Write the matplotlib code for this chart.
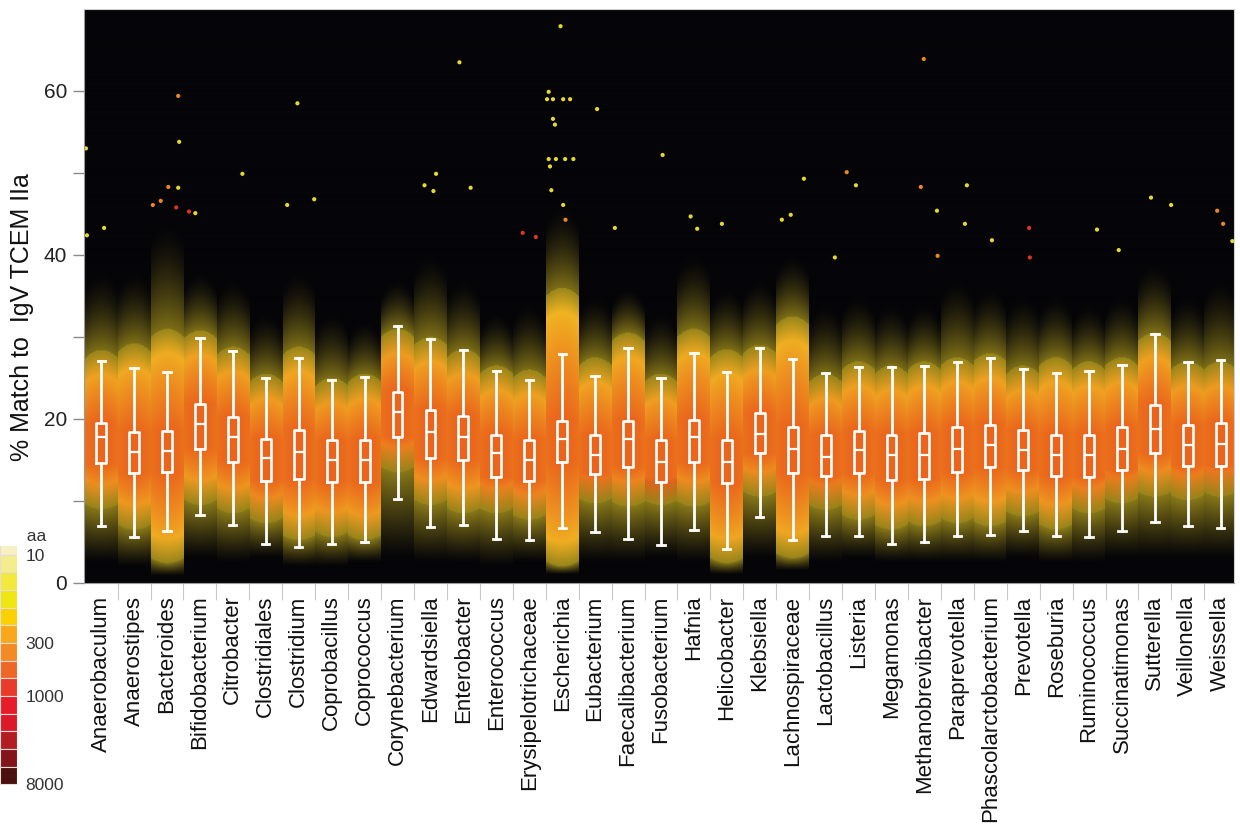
import numpy as np
import matplotlib
matplotlib.use('Agg')
import matplotlib.pyplot as plt

plt.rcParams['font.family'] = ['Liberation Sans', 'DejaVu Sans']

genera = ['Anaerobaculum', 'Anaerostipes', 'Bacteroides', 'Bifidobacterium', 'Citrobacter',
          'Clostridiales', 'Clostridium', 'Coprobacillus', 'Coprococcus', 'Corynebacterium',
          'Edwardsiella', 'Enterobacter', 'Enterococcus', 'Erysipelotrichaceae', 'Escherichia',
          'Eubacterium', 'Faecalibacterium', 'Fusobacterium', 'Hafnia', 'Helicobacter',
          'Klebsiella', 'Lachnospiraceae', 'Lactobacillus', 'Listeria', 'Megamonas',
          'Methanobrevibacter', 'Paraprevotella', 'Phascolarctobacterium', 'Prevotella', 'Roseburia',
          'Ruminococcus', 'Succinatimonas', 'Sutterella', 'Veillonella', 'Weissella']

# box plot statistics (% match)
whis_lo = [6.9, 5.6, 6.4, 8.3, 7.1, 4.8, 4.4, 4.8, 5.0, 10.3, 6.8, 7.1, 5.4, 5.3, 6.7, 6.2, 5.4, 4.6,
           6.5, 4.1, 8.0, 5.3, 5.7, 5.7, 4.8, 5.0, 5.7, 5.8, 6.4, 5.7, 5.6, 6.4, 7.5, 6.9, 6.7]
q1 = [14.6, 13.4, 13.5, 16.4, 14.8, 12.5, 12.7, 12.3, 12.3, 17.8, 15.2, 15.0, 12.9, 12.5, 14.7, 13.3,
      14.1, 12.3, 14.7, 12.2, 15.8, 13.4, 13.0, 13.4, 12.6, 12.7, 13.5, 14.1, 13.8, 13.0, 12.9, 13.8,
      15.9, 14.3, 14.3]
medians = [17.8, 16.0, 16.1, 19.4, 17.8, 15.2, 16.0, 15.0, 15.0, 20.8, 18.4, 17.8, 15.8, 15.0, 17.6,
           15.6, 17.6, 14.7, 17.8, 14.7, 18.2, 16.3, 15.4, 16.2, 15.6, 15.6, 16.4, 16.8, 16.2, 15.6,
           15.6, 16.4, 18.8, 16.8, 17.0]
q3 = [19.5, 18.4, 18.5, 21.8, 20.3, 17.6, 18.6, 17.4, 17.5, 23.3, 21.1, 20.4, 18.1, 17.4, 19.8, 18.0,
      19.8, 17.4, 19.9, 17.5, 20.7, 19.0, 18.0, 18.5, 18.1, 18.3, 19.0, 19.3, 18.6, 18.1, 18.1, 19.0,
      21.7, 19.3, 19.5]
whis_hi = [27.1, 26.2, 25.7, 29.9, 28.3, 25.0, 27.5, 24.8, 25.1, 31.4, 29.8, 28.4, 25.9, 24.8, 27.9,
           25.2, 28.7, 25.0, 28.0, 25.7, 28.6, 27.3, 25.6, 26.3, 26.3, 26.5, 26.9, 27.5, 26.1, 25.6,
           25.8, 26.6, 30.4, 26.9, 27.2]

# extent of the dense point cloud and of the sparse points around it
dense_hi = [28.4, 29.2, 31.0, 30.8, 28.8, 25.5, 28.8, 25.0, 25.5, 31.0, 30.0, 28.5, 26.5, 26.0, 36.0,
            27.5, 30.5, 25.5, 31.0, 28.5, 29.0, 32.5, 25.5, 27.0, 26.5, 27.0, 27.5, 28.0, 26.5, 27.5,
            27.0, 27.5, 30.5, 27.0, 27.0]
sparse_hi = [38, 38, 44, 38, 37, 33, 38, 33, 32, 37, 40, 37, 33, 34, 46, 35, 36, 33, 40, 36,
             37, 40, 34, 35, 34, 34, 37, 36, 35, 35, 34, 35, 39, 35, 37]
dense_lo = [9.0, 6.5, 2.4, 9.5, 8.5, 7.3, 5.2, 5.6, 5.2, 13.5, 9.5, 8.5, 8.5, 7.7, 2.0, 9.7, 9.3, 9.5,
            9.3, 2.4, 10.5, 3.0, 8.9, 7.7, 6.5, 6.9, 7.3, 6.9, 8.1, 6.5, 8.5, 9.7, 10.5, 10.1, 10.5]
sparse_lo = [2.5, 2.0, 0.8, 3.0, 2.5, 3.0, 2.0, 2.0, 2.5, 3.0, 2.5, 2.5, 2.0, 2.5, 1.0, 2.5, 2.5, 3.0,
             2.5, 1.0, 3.0, 1.5, 2.5, 3.0, 2.5, 2.5, 2.5, 2.5, 3.0, 2.5, 2.5, 3.0, 3.0, 3.0, 3.0]

# isolated high points (position along category axis, % match, aa count level)
out_x = [-0.46, -0.43, 0.09, 1.57, 1.81, 2.04, 2.28, 2.34, 2.37, 2.34, 2.67, 2.86, 4.29, 5.65, 5.96,
         6.47, 9.82, 10.09, 10.17, 10.88, 11.22, 12.8, 13.2, 13.54, 13.59, 13.59, 13.63, 13.67, 13.72,
         13.72, 13.78, 13.81, 13.95, 14.03, 14.03, 14.09, 14.1, 14.24, 14.34, 15.06, 15.6, 17.05,
         17.9, 18.1, 18.85, 20.67, 20.94, 21.34, 22.28, 22.64, 22.92, 24.89, 24.98, 25.38, 25.4,
         26.23, 26.29, 27.05, 28.18, 28.2, 30.24, 30.9, 31.88, 32.49, 33.89, 34.07, 34.35]
out_y = [53.0, 42.4, 43.3, 46.1, 46.6, 48.3, 45.8, 59.4, 53.8, 48.2, 45.3, 45.1, 49.9, 46.1, 58.5,
         46.8, 48.5, 47.8, 49.9, 63.5, 48.2, 42.7, 42.2, 59.0, 59.9, 51.7, 50.8, 47.9, 59.0,
         56.6, 55.9, 51.7, 67.9, 59.0, 46.1, 51.7, 44.3, 59.0, 51.7, 57.8, 43.3, 52.2,
         44.7, 43.2, 43.8, 44.3, 44.9, 49.3, 39.7, 50.1, 48.5, 48.3, 63.9, 45.4, 39.9,
         43.8, 48.5, 41.8, 43.3, 39.7, 43.1, 40.6, 47.0, 46.1, 45.4, 43.8, 41.7]
out_level = [10, 10, 10, 300, 300, 300, 1000, 300, 10, 10, 1000, 10, 10, 10, 10,
             10, 10, 10, 10, 10, 10, 1000, 1000, 10, 10, 10, 10, 10, 10,
             10, 10, 10, 10, 10, 10, 10, 300, 10, 10, 10, 10, 10,
             10, 10, 10, 10, 10, 10, 10, 300, 10, 300, 300, 10, 300,
             10, 10, 10, 1000, 1000, 10, 10, 10, 10, 300, 300, 10]

# colour key (aa counts)
key_colors = ['#f6f0c2', '#f5ec8e', '#f2e83e', '#efe612', '#fbd200', '#f8a81a', '#f48a24',
              '#ee6628', '#ea3a2a', '#e81c28', '#dd1828', '#b41c24', '#82141a', '#4a1010']
key_labels = ['10', '300', '1000', '8000']
key_pos = [0, 5, 8, 13]
level_colors = {10: '#e6da2c', 300: '#f0861e', 1000: '#e23424'}

XMIN, XMAX, YMAX = -0.52, 34.4, 70


def cloud_image(nx=1150, ny=580):
    # colour the point cloud of every genus from its read extents
    xs = np.linspace(XMIN, XMAX, nx)
    ys = np.linspace(0, YMAX, ny)[:, None]
    idx = np.clip(np.round(xs), 0, len(genera) - 1).astype(int)
    r = np.clip(np.abs(xs - idx) / 0.5, 0, 1)
    hi = np.array(dense_hi)[idx] - 1.0 * r ** 2
    lo = np.array(dense_lo)[idx] + 0.6 * r ** 2
    shi = np.array(sparse_hi)[idx] - 2.0 * r ** 2
    slo = np.array(sparse_lo)[idx]
    a1 = np.array(q1)[idx]
    a3 = np.array(q3)[idx]

    t_lo = (ys - lo) / np.maximum(a1 - lo, 0.5)
    t_hi = (hi - ys) / np.maximum(hi - a3, 0.5)
    t = np.clip(np.minimum(t_lo, t_hi), 0, 1) ** 0.7 * (1 - 0.12 * r ** 2)

    yellow = np.array([243, 214, 38]) / 255
    orange = np.array([234, 100, 28]) / 255
    bg = np.array([5, 5, 8]) / 255
    col = yellow * (1 - t[..., None]) + orange * t[..., None]

    inside = (ys >= lo) & (ys <= hi)
    edge = np.minimum(ys - lo, hi - ys)
    b = np.where(inside, np.clip(0.62 + 0.38 * edge / 3.0, 0.62, 1), 0.0)
    above = ys > hi
    f_up = np.clip(1 - (ys - hi) / np.maximum(shi - hi, 0.5), 0, 1) ** 1.6 * 0.5
    below = ys < lo
    f_dn = np.clip(1 - (lo - ys) / np.maximum(lo - slo, 0.5), 0, 1) ** 1.2 * 0.55
    b = b + np.where(above, f_up, 0) + np.where(below, f_dn, 0)
    col = np.where((above | below)[..., None], yellow, col)
    return bg + (col - bg) * b[..., None]


fig = plt.figure(figsize=(12.4, 8.25), dpi=100)
ax = fig.add_axes([84 / 1240, 1 - 583 / 825, 1150 / 1240, 574 / 825])
ax.set_facecolor('#050508')

ax.imshow(cloud_image(), extent=(XMIN, XMAX, 0, YMAX), origin='lower', aspect='auto',
          interpolation='bilinear', zorder=1)

ax.scatter(out_x, out_y, s=9, c=[level_colors[v] for v in out_level], linewidths=0, zorder=2)

stats = []
for i, g in enumerate(genera):
    stats.append({'label': g, 'whislo': whis_lo[i], 'q1': q1[i], 'med': medians[i],
                  'q3': q3[i], 'whishi': whis_hi[i], 'fliers': []})
pos = np.arange(len(genera))
ax.bxp(stats, positions=pos, widths=0.3, capwidths=0.22, showfliers=False, patch_artist=False,
       boxprops=dict(color='white', linewidth=1.9),
       whiskerprops=dict(color='white', linewidth=2.0),
       capprops=dict(color='white', linewidth=2.0),
       medianprops=dict(color='white', linewidth=1.6),
       zorder=3)

ax.set_xlim(XMIN, XMAX)
ax.set_ylim(0, YMAX)
ax.set_xticks(pos)
ax.set_xticklabels(genera, rotation=90, fontsize=16, color='#111111')
ax.set_xticks(pos[:-1] + 0.5, minor=True)
ax.tick_params(axis='x', which='major', length=0, pad=9)
ax.tick_params(axis='x', which='minor', length=12, width=0.8, color='#c8c8c8')
ax.set_yticks([0, 20, 40, 60])
ax.set_yticks([10, 30, 50], minor=True)
ax.tick_params(axis='y', which='both', length=8, width=1, color='#8a8a8a', labelsize=15,
               labelcolor='#222222', pad=4)
for s in ['left', 'bottom']:
    ax.spines[s].set_color('#9a9a9a')
for s in ['top', 'right']:
    ax.spines[s].set_color('#cfcfcf')

fig.text(22 / 1240, 1 - 317 / 825, '% Match to  IgV TCEM IIa', rotation=90, fontsize=18,
         ha='center', va='center', color='#111111')

# colour key in the lower left corner
cax = fig.add_axes([0, 1 - 793 / 825, 17 / 1240, 247 / 825])
cax.barh(np.arange(len(key_colors)), 1, height=1, color=key_colors, edgecolor='#e6ddd6',
         linewidth=0.8)
cax.set_xlim(0, 1)
cax.set_ylim(len(key_colors), 0)
cax.set_xticks([])
cax.set_yticks(np.array(key_pos) + 0.5)
cax.set_yticklabels(key_labels, fontsize=12.5, color='#333333')
cax.yaxis.tick_right()
cax.tick_params(axis='y', length=0, pad=6)
for s in cax.spines.values():
    s.set_visible(False)
cax.text(1, -0.55, '  aa', transform=cax.transData, fontsize=12.5, color='#333333',
         ha='left', va='center')

fig.savefig('out.png', dpi=100, facecolor='white')
